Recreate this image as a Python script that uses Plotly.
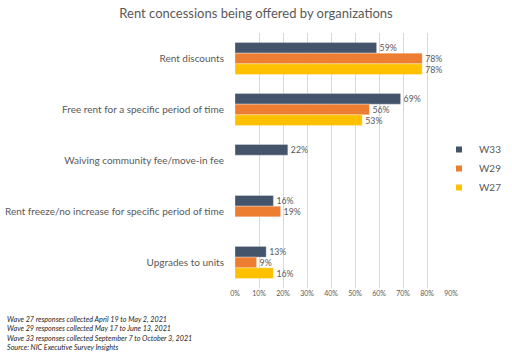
import plotly.graph_objects as go

categories = ["Rent discounts", "Free rent for a specific period of time",
              "Waiving community fee/move-in fee",
              "Rent freeze/no increase for specific period of time",
              "Upgrades to units"]
w33 = [59, 69, 22, 16, 13]
w29 = [78, 56, None, 19, 9]
w27 = [78, 53, None, None, 16]
tick_vals = [0, 10, 20, 30, 40, 50, 60, 70, 80, 90]
tick_text = ["0%", "10%", "20%", "30%", "40%", "50%", "60%", "70%", "80%", "90%"]
footnotes = ["Wave 27 responses collected April 19 to May 2, 2021",
             "Wave 29 responses collected May 17 to June 13, 2021",
             "Wave 33 responses collected September 7 to October 3, 2021",
             "Source: NIC Executive Survey Insights"]

series = [("W33", w33, "#44546A"), ("W29", w29, "#ED7D31"), ("W27", w27, "#FFC000")]

FONT = "Lato"
GRAY = "#595959"

L, R, T, B = 235, 0, 33, 76
H = 364
PW = 512 - L - R          # paper width in px
PH = H - T - B            # paper height in px
PLOT_W = 216              # plot area width in px

fig = go.Figure()
for name, vals, col in series:
    fig.add_trace(go.Bar(
        name=name, y=categories, x=vals, orientation="h", showlegend=False,
        marker=dict(color=col, line=dict(color="rgba(255,255,255,0.6)", width=0.5)),
        texttemplate="%{x}%", textposition="outside", cliponaxis=False,
        textfont=dict(size=9, color=GRAY, family=FONT),
    ))
for name, vals, col in series:
    fig.add_trace(go.Scatter(
        name=name, x=[None], y=[None], mode="markers",
        marker=dict(symbol="square", size=6, color=col), showlegend=True,
    ))

fig.update_layout(
    width=512, height=H,
    barmode="group", bargap=0.37, bargroupgap=0,
    plot_bgcolor="white", paper_bgcolor="white",
    margin=dict(l=L, r=R, t=T, b=B),
    font=dict(family=FONT, color=GRAY),
    title=dict(text="Rent concessions being offered by organizations",
               x=0.5, xanchor="center", y=0.962, yanchor="middle",
               font=dict(size=13, color=GRAY, family=FONT)),
    legend=dict(x=(439 - L) / PW, y=0.60, xanchor="left", yanchor="top",
                font=dict(size=10, color=GRAY, family=FONT),
                bgcolor="rgba(0,0,0,0)"),
    xaxis=dict(range=[0, 90], domain=[0, PLOT_W / PW],
               tickvals=tick_vals, ticktext=tick_text,
               showgrid=True, gridcolor="#D9D9D9", gridwidth=1,
               zeroline=False, showline=False, automargin=False,
               tickfont=dict(size=7, color=GRAY, family=FONT)),
    yaxis=dict(autorange="reversed", showgrid=False, showline=False,
               ticks="", ticklabelstandoff=10, automargin=False,
               tickfont=dict(size=10, color=GRAY, family=FONT)),
)

fig.add_annotation(
    xref="paper", yref="paper", x=-(L - 5) / PW, y=-0.098,
    xanchor="left", yanchor="top", align="left", showarrow=False,
    text="<i>" + "<br>".join(footnotes) + "</i>",
    font=dict(size=7.2, color="#262626", family=FONT),
)

fig.write_html("out.html", config={"displayModeBar": False},
               post_script="document.body.style.margin='0';")
